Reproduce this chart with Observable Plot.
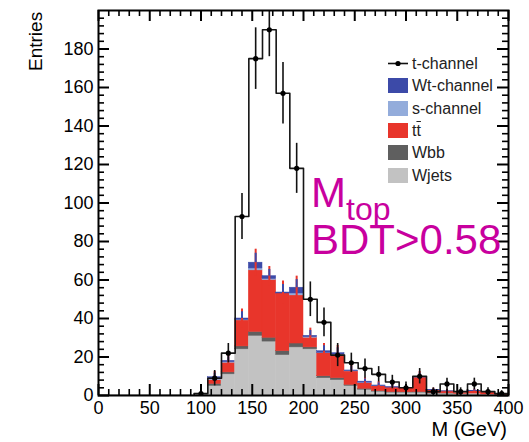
<!DOCTYPE html>
<html><head><meta charset="utf-8">
<script src="https://cdn.jsdelivr.net/npm/d3@7"></script>
<script src="https://cdn.jsdelivr.net/npm/@observablehq/plot@0.6"></script>
<style>
body{margin:0;background:#fff;font-family:"Liberation Sans",Arial,sans-serif;}
#wrap{position:relative;width:529px;height:442px;overflow:hidden;background:#fff;}
#wrap > svg{position:absolute;left:0;top:0;}
.abs{position:absolute;white-space:nowrap;line-height:1;}
.leg{position:absolute;left:388px;font-size:16px;color:#222;white-space:nowrap;}
.leg .box{position:absolute;left:0;width:20px;height:15px;}
.leg .lbl{position:absolute;left:24px;top:-1px;white-space:nowrap;line-height:17px;}
</style></head><body><div id="wrap"></div>
<script>
// ---- data ----
const nBins = 30, xMin = 0, xMax = 400;
const binW = (xMax - xMin) / nBins;
const binLo = d3.range(nBins).map(i => xMin + i * binW);

const tChannel    = [0,0,0,0,0,0,0,1,9,22,93,175,190,157,118,50,38,21,17,14,11,7,4,10,2,6,2,6,2,1];
const tChannelErr = [0,0,0,0,0,0,0,1.5,4,5,12,16,14,16,13,9,7.5,6,5,5,4,3.5,3,4,2,3,2,3,2,1.5];
const wjets     = [0,0,0,0,0,0,0,1,5,11,24,31,28,21,25,24,9,8,5,3,2,1.5,1.5,1.5,1,1,0.8,1,0.5,0.3];
const wbb       = [0,0,0,0,0,0,0,0,1,1,1.5,2,2,2,2,1,1,1,0.5,0.5,0.3,0.3,0.2,0.3,0.2,0.1,0,0,0,0];
const ttbar     = [0,0,0,0,0,0,0,0,2,5,13.5,32,30,30,25,5,12,12,7,3,2.5,2.3,2.1,7.5,1.5,1,0.4,1.2,1,0.5];
const sChannel  = [0,0,0,0,0,0,0,0,0.5,0.3,0.3,1,0.5,0,1,0.3,0.2,0.3,0.2,0.2,0.1,0,0,0,0,0,0,0,0,0];
const wtChannel = [0,0,0,0,0,0,0,0,1,0.7,0.7,3,1.5,0.5,3,0.7,0.8,0.7,0.3,0.5,0.3,0.2,0.2,0.2,0.1,0.1,0,0.1,0,0];
const stackErr  = [0,0,0,0,0,0,0,0,3,3,5,7,5,6,6,4,4,4,3,2,2,2,1.5,3,1,1,1,1,1,1];

const comps = ["Wjets","Wbb","tt","s-channel","Wt-channel"];
const compColors = ["#c2c2c2","#5f5f5f","#e8352b","#93acdb","#3c4aa8"];
const legendLabels = ["t-channel","Wt-channel","s-channel","tt","Wbb","Wjets"];

const xMajor = [0,50,100,150,200,250,300,350,400];
const yMajor = [0,20,40,60,80,100,120,140,160,180];
const xMinor = d3.range(0, 401, 10).filter(v => v % 50 !== 0);
const yMinor = d3.range(0, 201, 4).filter(v => v % 20 !== 0);

// ---- derived tables ----
const series = [wjets, wbb, ttbar, sChannel, wtChannel];
const rects = [], totals = [];
binLo.forEach((lo, i) => {
  let cum = 0;
  series.forEach((s, k) => {
    if (s[i] > 0) rects.push({x1: lo, x2: lo + binW, y1: cum, y2: cum + s[i], comp: comps[k]});
    cum += s[i];
  });
  totals.push(cum);
});
const bins = binLo.map((lo, i) => ({
  lo, c: lo + binW / 2, t: tChannel[i], te: tChannelErr[i],
  tot: totals[i], se: stackErr[i]
}));
const stepPts = binLo.map((lo, i) => ({x: lo, y: tChannel[i]})).concat([{x: xMax, y: tChannel[nBins - 1]}]);
const nz = bins.filter(d => d.t > 0);
const st = bins.filter(d => d.se > 0);

// ---- layout ----
const W = 529, H = 442, mL = 98, mR = 21, mT = 10, mB = 47;
const PW = W - mL - mR, PH = H - mT - mB;
const MAJ = 11, MIN = 6;
const id = d => d;

const chart = Plot.plot({
  width: W, height: H,
  marginLeft: mL, marginRight: mR, marginTop: mT, marginBottom: mB,
  x: {domain: [xMin, xMax], label: null},
  y: {domain: [0, 200], label: null},
  color: {domain: comps, range: compColors},
  style: {fontFamily: "'Liberation Sans', Arial, sans-serif", fontSize: "18px"},
  marks: [
    Plot.rect(rects, {x1: "x1", x2: "x2", y1: "y1", y2: "y2", fill: "comp", stroke: "comp", strokeWidth: 0.5}),
    Plot.ruleX(st, {x: "c", y1: d => d.tot - d.se, y2: d => d.tot + d.se, stroke: "#e8352b", strokeWidth: 2}),
    Plot.ruleX(st, {x: "c", y1: d => d.tot, y2: d => d.tot + d.se * 0.7, stroke: "#3c4aa8", strokeWidth: 2}),
    Plot.line(stepPts, {x: "x", y: "y", curve: "step-after", stroke: "#151515", strokeWidth: 1.6, clip: true}),
    Plot.ruleX(nz, {x: "c", y1: d => d.t - d.te, y2: d => d.t + d.te, stroke: "#111", strokeWidth: 1.6, clip: true}),
    Plot.dot(nz, {x: "c", y: "t", r: 2.6, fill: "black", clip: true}),
    // inward ticks on all four sides
    Plot.ruleY(yMajor, {y: id, insetRight: PW - MAJ, stroke: "black", strokeWidth: 2}),
    Plot.ruleY(yMinor, {y: id, insetRight: PW - MIN, stroke: "black", strokeWidth: 1.6}),
    Plot.ruleY(yMajor, {y: id, insetLeft: PW - MAJ, stroke: "black", strokeWidth: 2}),
    Plot.ruleY(yMinor, {y: id, insetLeft: PW - MIN, stroke: "black", strokeWidth: 1.6}),
    Plot.ruleX(xMajor, {x: id, insetTop: PH - MAJ, stroke: "black", strokeWidth: 2}),
    Plot.ruleX(xMinor, {x: id, insetTop: PH - MIN, stroke: "black", strokeWidth: 1.6}),
    Plot.ruleX(xMajor, {x: id, insetBottom: PH - MAJ, stroke: "black", strokeWidth: 2}),
    Plot.ruleX(xMinor, {x: id, insetBottom: PH - MIN, stroke: "black", strokeWidth: 1.6}),
    Plot.frame({stroke: "black", strokeWidth: 2}),
    Plot.axisY(yMajor, {anchor: "left", tickSize: 0, tickPadding: 5, fontSize: 18, label: null}),
    Plot.axisX(xMajor, {anchor: "bottom", tickSize: 0, tickPadding: 6, fontSize: 18, label: null})
  ]
});
const wrap = document.getElementById("wrap");
wrap.appendChild(chart);

function addDiv(html, css, cls = "abs") {
  const d = document.createElement("div");
  d.className = cls; d.innerHTML = html; d.style.cssText = css;
  wrap.appendChild(d); return d;
}
// clipped title at the top edge (only its descenders show)
addDiv("(tb category)", "left:291px;top:-38px;font-size:36px;color:#000;");
// axis titles
addDiv("Entries", "left:26px;top:71px;font-size:19px;transform:rotate(-90deg);transform-origin:left top;");
addDiv("M (GeV)", "right:22px;top:419px;font-size:20px;");
// annotation
addDiv("M<span style='font-size:32px;position:relative;top:13px;'>top</span>", "left:311px;top:172px;font-size:42px;color:#c8009e;");
addDiv("BDT&gt;0.58", "left:311px;top:219px;font-size:42px;color:#c8009e;");

// legend
legendLabels.forEach((lab, k) => {
  const top = 56 + k * 22.3;
  let sw;
  if (k === 0) {
    sw = `<svg width="22" height="15" style="position:absolute;left:0;top:0"><line x1="0" y1="7.5" x2="20" y2="7.5" stroke="#111" stroke-width="1.6"/><circle cx="10" cy="7.5" r="2.6" fill="#000"/></svg>`;
  } else {
    const col = compColors[comps.indexOf(lab)];
    sw = `<div class="box" style="background:${col}"></div>`;
  }
  const txt = lab === "tt" ? "t<span style='text-decoration:overline'>t</span>" : lab;
  addDiv(sw + `<div class="lbl">${txt}</div>`, `top:${top}px;`, "leg");
});
</script></body></html>
